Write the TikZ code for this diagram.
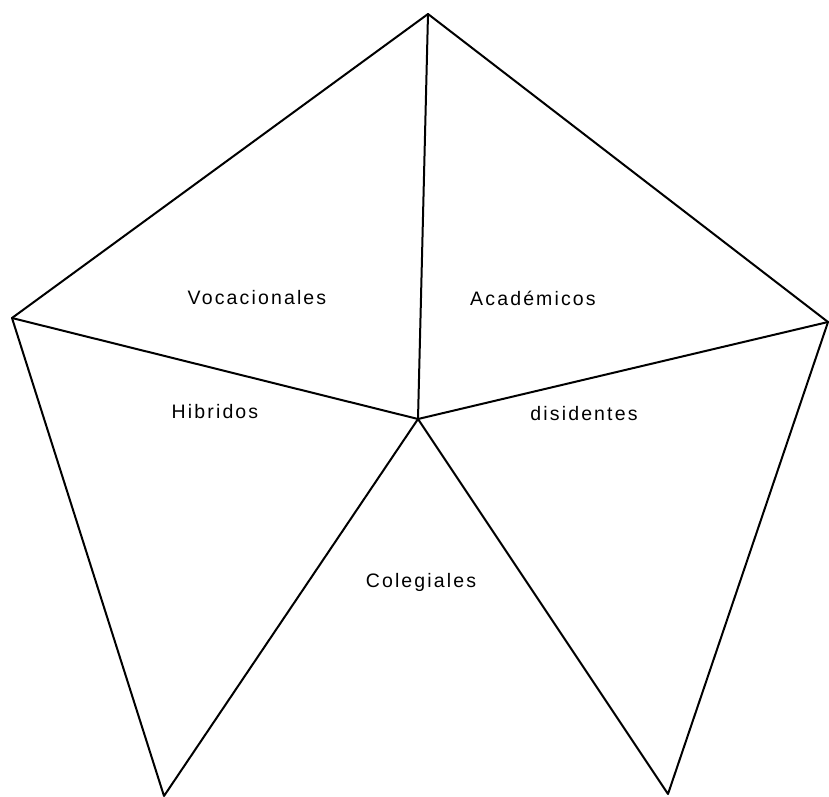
\documentclass[tikz,border=0pt]{standalone}
\usepackage{fontspec}
\setmainfont{Liberation Sans}
\begin{document}
\begin{tikzpicture}[x=1pt,y=-1pt,
  edge/.style={draw=black,line width=2pt,line join=round,line cap=round},
  lbl/.style={font=\addfontfeatures{LetterSpace=11}\fontsize{19.5}{22}\selectfont,inner sep=0pt,anchor=center}]
\useasboundingbox (0,0) rectangle (829,796);
\coordinate (top) at (428,14);
\coordinate (left) at (12,318);
\coordinate (right) at (828,322);
\coordinate (bl) at (164,796);
\coordinate (br) at (668,794);
\coordinate (c) at (418,419);
\draw[edge] (left) -- (top) -- (right);
\draw[edge] (left) -- (bl) -- (c) -- (br) -- (right);
\draw[edge] (top) -- (c);
\draw[edge] (left) -- (c) -- (right);
\node[lbl] (voc) at (257,298) {Vocacionales};
\node[lbl] (aca) at (533,298) {Académicos};
\node[lbl] (hib) at (215,412) {Hibridos};
\node[lbl] (dis) at (584,414) {disidentes};
\node[lbl] (col) at (421,582) {Colegiales};
\end{tikzpicture}
\end{document}
